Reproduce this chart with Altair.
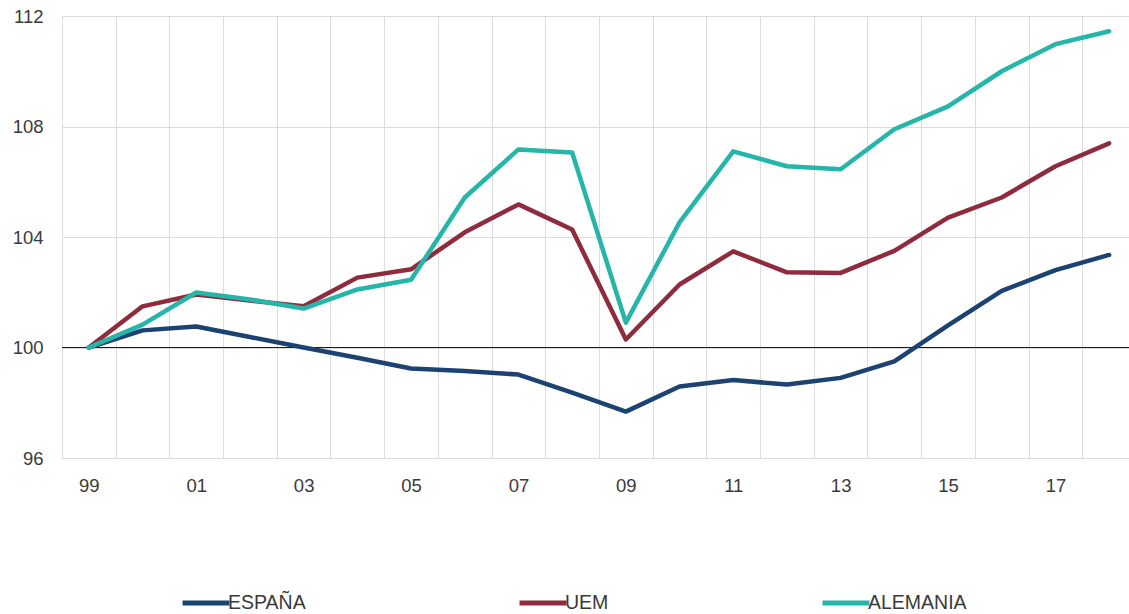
import altair as alt
import pandas as pd

# Index values by year (1999 = 100)
years = [1999, 2000, 2001, 2002, 2003, 2004, 2005, 2006, 2007, 2008,
         2009, 2010, 2011, 2012, 2013, 2014, 2015, 2016, 2017, 2018]
espana = [100.0, 100.62, 100.76, 100.38, 100.0, 99.63, 99.24, 99.15, 99.02, 98.37,
          97.68, 98.59, 98.82, 98.66, 98.9, 99.5, 100.8, 102.05, 102.8, 103.35]
uem = [100.0, 101.49, 101.92, 101.7, 101.49, 102.53, 102.83, 104.17, 105.18, 104.27,
       100.29, 102.28, 103.48, 102.72, 102.7, 103.5, 104.7, 105.43, 106.56, 107.39]
alemania = [100.0, 100.83, 101.99, 101.74, 101.41, 102.1, 102.45, 105.43, 107.17, 107.06,
            100.9, 104.53, 107.1, 106.56, 106.45, 107.9, 108.73, 110.0, 110.98, 111.45]

series = ["ESPAÑA", "UEM", "ALEMANIA"]
colors = ["#1C4272", "#8E2B3D", "#25B5A9"]
y_ticks = [96, 100, 104, 108, 112]

rows = []
for name, vals in zip(series, [espana, uem, alemania]):
    for yr, v in zip(years, vals):
        rows.append({"year": yr, "serie": name, "valor": v})
df = pd.DataFrame(rows)

# vertical grid lines sit between the years
grid_years = [yr - 0.5 for yr in years]

FONT = "Liberation Sans"
TXT = "#3a3a3a"

x_enc = alt.X(
    "year:Q",
    title=None,
    scale=alt.Scale(domain=[1998.5, 2018.37], nice=False, zero=False),
    axis=alt.Axis(
        values=grid_years,
        labelExpr="(datum.value + 0.5) % 2 == 1 ? substring(toString(datum.value + 0.5), 2, 4) : ''",
        labelOffset=26.85,
        labelOverlap=False,
        labelFlush=False,
        labelBound=False,
        labelPadding=18,
        labelFontSize=18.5,
        labelColor=TXT,
        labelFont=FONT,
        ticks=False,
        domain=False,
        grid=True,
        gridColor="#dcdcdc",
        gridWidth=1,
    ),
)
y_enc = alt.Y(
    "valor:Q",
    title=None,
    scale=alt.Scale(domain=[96, 112], nice=False, zero=False),
    axis=alt.Axis(
        values=y_ticks,
        labelPadding=19,
        labelFontSize=18.5,
        labelColor=TXT,
        labelFont=FONT,
        ticks=False,
        domain=False,
        grid=True,
        gridColor="#dcdcdc",
        gridWidth=1,
    ),
)
color_enc = alt.Color(
    "serie:N",
    scale=alt.Scale(domain=series, range=colors),
    legend=alt.Legend(
        title=None,
        orient="none",
        legendX=118,
        legendY=561,
        direction="horizontal",
        symbolType="stroke",
        symbolSize=2200,
        symbolStrokeWidth=5,
        labelFontSize=19.5,
        labelFont=FONT,
        labelColor=TXT,
        labelOffset={"expr": "-4"},
        columnPadding=203,
        padding=0,
    ),
)

base = alt.Chart(df)
lines = [
    base.transform_filter(alt.datum.serie == s)
    .mark_line(strokeWidth=4.5, strokeJoin="round", strokeCap="round")
    .encode(x=x_enc, y=y_enc, color=color_enc)
    for s in series
]

ref = alt.Chart(pd.DataFrame({"v": [100]})).mark_rule(color="#1a1a1a", strokeWidth=1.2).encode(
    y=alt.Y("v:Q", scale=alt.Scale(domain=[96, 112], nice=False, zero=False))
)

chart = (
    alt.layer(ref, *lines)
    .properties(
        width=1067,
        height=442,
        padding={"left": 62, "top": 16, "right": 0, "bottom": 156},
        autosize=alt.AutoSizeParams(type="none"),
        background="white",
    )
    .configure_view(stroke=None)
    .configure(font=FONT)
)

chart.save("out.html", embed_options={"renderer": "svg", "actions": False})
